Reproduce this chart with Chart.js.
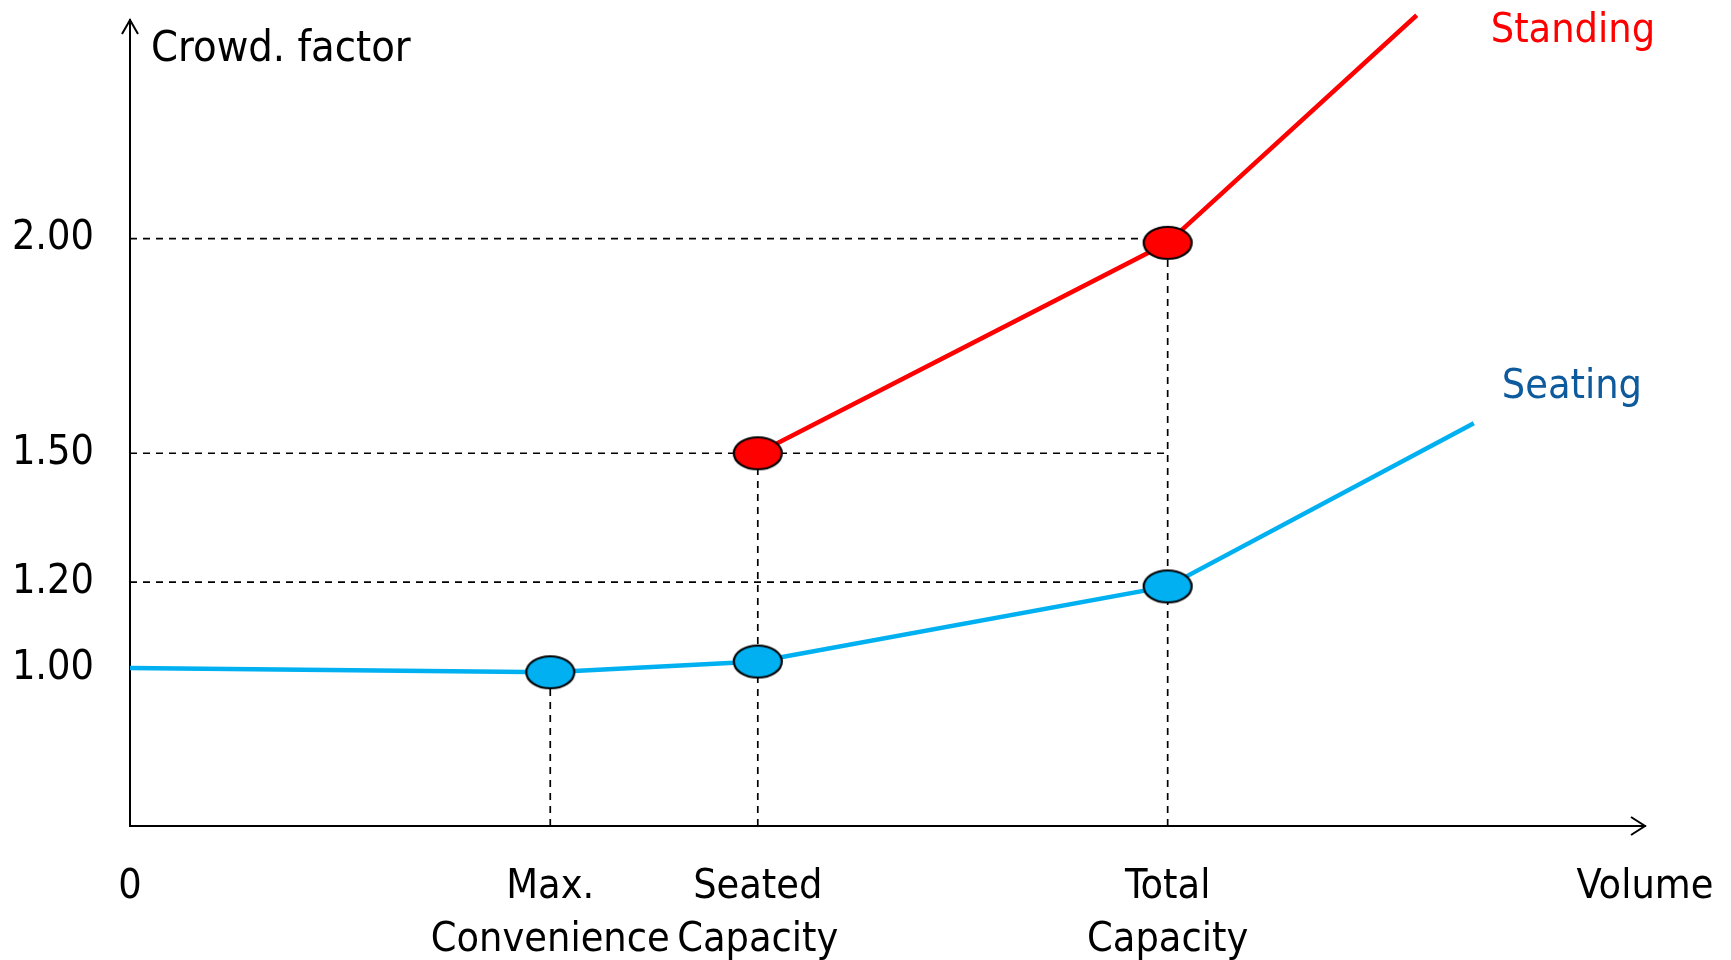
<!DOCTYPE html>
<html>
<head>
<meta charset="utf-8">
<title>Crowding factor</title>
<script src="https://cdn.jsdelivr.net/npm/chart.js@4.4.1/dist/chart.umd.min.js"></script>
<style>
  html, body { margin: 0; padding: 0; background: #fff; }
  #wrap { width: 1731px; height: 960px; position: relative; }
</style>
</head>
<body>
<div id="wrap"><canvas id="grafico"></canvas></div>
<script>
// volume in arbitrary units (total capacity = 100)
const volumeTicks = [0, 40.5, 60.5, 100, 146];
const volumeLabels = ["0", ["Max.", "Convenience"], ["Seated", "Capacity"], ["Total", "Capacity"], "Volume"];

const factorTicks = [1.00, 1.20, 1.50, 2.00];

const seatingX = [0, 40.5, 60.5, 100, 129.5];
const seatingY = [1.00, 0.99, 1.015, 1.19, 1.57];
const seatingMarked = [false, true, true, true, false];

const standingX = [60.5, 100, 124];
const standingY = [1.50, 1.99, 2.52];
const standingMarked = [true, true, false];

const yMin = 0.632;
const yMax = 2.509;

const fonteEixo = "'Noto Sans Condensed', 'DejaVu Sans Condensed', sans-serif";
const fonteSerie = "'DejaVu Sans Condensed', 'DejaVu Sans', sans-serif";

// pick the axis font size so that "Convenience" is as wide as in the picture
function tamanhoPara(texto, largura, familia) {
  const g = document.createElement("canvas").getContext("2d");
  g.font = "100px " + familia;
  return Math.round(100 * largura / g.measureText(texto).width);
}
const tamEixo = tamanhoPara("Convenience", 239, fonteEixo);

function elipse(cor) {
  const c = document.createElement("canvas");
  c.width = 52;
  c.height = 36;
  const g = c.getContext("2d");
  g.beginPath();
  g.ellipse(26, 18, 24, 16, 0, 0, Math.PI * 2);
  g.fillStyle = cor;
  g.fill();
  g.lineWidth = 2.2;
  g.strokeStyle = "#000";
  g.stroke();
  return c;
}

const marcaAzul = elipse("#00b0f0");
const marcaVermelha = elipse("#ff0000");

const pontos = (xs, ys) => xs.map((x, i) => ({ x: x, y: ys[i] }));

// dashed guide lines: horizontal at the factor ticks, vertical at the marked volumes
const totalCap = volumeTicks[3];
const guias = [];
factorTicks.filter(v => v > 1).forEach(v => {
  guias.push([{ x: 0, y: v }, { x: totalCap, y: v }]);
});
volumeTicks.slice(1, 4).forEach(x => {
  const topo = Math.max(
    ...seatingX.map((sx, i) => (sx === x && seatingMarked[i]) ? seatingY[i] : -1),
    ...standingX.map((sx, i) => (sx === x && standingMarked[i]) ? standingY[i] : -1)
  );
  guias.push([{ x: x, y: yMin }, { x: x, y: topo }]);
});

const datasetsGuias = guias.map(g => ({
  data: g,
  borderColor: "#000",
  borderWidth: 1.7,
  borderDash: [7, 6],
  pointRadius: 0,
  fill: false,
  order: 10
}));

const textos = {
  id: "textos",
  afterDraw(chart) {
    const ctx = chart.ctx;
    const area = chart.chartArea;
    const sx = chart.scales.x;
    const sy = chart.scales.y;
    ctx.save();

    // arrow heads
    ctx.strokeStyle = "#000";
    ctx.lineWidth = 2;
    ctx.beginPath();
    ctx.moveTo(area.left - 8, area.top + 14);
    ctx.lineTo(area.left, area.top);
    ctx.lineTo(area.left + 8, area.top + 14);
    ctx.moveTo(area.right - 14, area.bottom - 9);
    ctx.lineTo(area.right, area.bottom);
    ctx.lineTo(area.right - 14, area.bottom + 9);
    ctx.stroke();

    ctx.textBaseline = "middle";
    ctx.textAlign = "left";
    ctx.fillStyle = "#000";
    ctx.font = Math.round(tamEixo * 1.05) + "px " + fonteEixo;
    ctx.fillText("Crowd. factor", area.left + 21, area.top + 30);

    ctx.font = "41px " + fonteSerie;
    const ultimoSt = standingX.length - 1;
    ctx.fillStyle = "#ff0000";
    ctx.fillText("Standing",
      sx.getPixelForValue(standingX[ultimoSt]) + 74,
      sy.getPixelForValue(standingY[ultimoSt]) + 16);

    const ultimoSe = seatingX.length - 1;
    ctx.fillStyle = "#0d5a9c";
    ctx.fillText("Seating",
      sx.getPixelForValue(seatingX[ultimoSe]) + 28,
      sy.getPixelForValue(seatingY[ultimoSe]) - 36);
    ctx.restore();
  }
};

new Chart(document.getElementById("grafico"), {
  type: "line",
  data: {
    datasets: [
      {
        data: pontos(standingX, standingY),
        borderColor: "#ff0000",
        borderWidth: 4.5,
        pointStyle: marcaVermelha,
        pointRadius: standingMarked.map(m => m ? 5 : 0),
        clip: false,
        order: 0
      },
      {
        data: pontos(seatingX, seatingY),
        borderColor: "#00b0f0",
        borderWidth: 4.5,
        pointStyle: marcaAzul,
        pointRadius: seatingMarked.map(m => m ? 5 : 0),
        order: 1
      },
      ...datasetsGuias
    ]
  },
  options: {
    responsive: true,
    maintainAspectRatio: false,
    animation: false,
    events: [],
    layout: { padding: { top: 20, right: 86, bottom: 0, left: 0 } },
    plugins: {
      legend: { display: false },
      tooltip: { enabled: false }
    },
    scales: {
      x: {
        type: "linear",
        min: 0,
        max: volumeTicks[volumeTicks.length - 1],
        grid: { display: false, drawTicks: false },
        border: { display: true, color: "#000", width: 2 },
        afterBuildTicks: s => { s.ticks = volumeTicks.map(v => ({ value: v })); },
        afterFit: s => { s.height = 134; s.paddingLeft = 0; s.paddingRight = 0; },
        ticks: {
          autoSkip: false,
          maxRotation: 0,
          padding: 35,
          color: "#000",
          font: { family: fonteEixo, size: tamEixo, lineHeight: "53px" },
          callback: v => volumeLabels[volumeTicks.indexOf(v)]
        }
      },
      y: {
        type: "linear",
        min: yMin,
        max: yMax,
        grid: { display: false, drawTicks: false },
        border: { display: true, color: "#000", width: 2 },
        afterBuildTicks: s => { s.ticks = factorTicks.map(v => ({ value: v })); },
        afterFit: s => { s.width = 130; s.paddingTop = 0; s.paddingBottom = 0; },
        ticks: {
          padding: 36,
          color: "#000",
          font: { family: fonteEixo, size: tamEixo },
          callback: v => v.toFixed(2)
        }
      }
    }
  },
  plugins: [textos]
});
</script>
</body>
</html>
